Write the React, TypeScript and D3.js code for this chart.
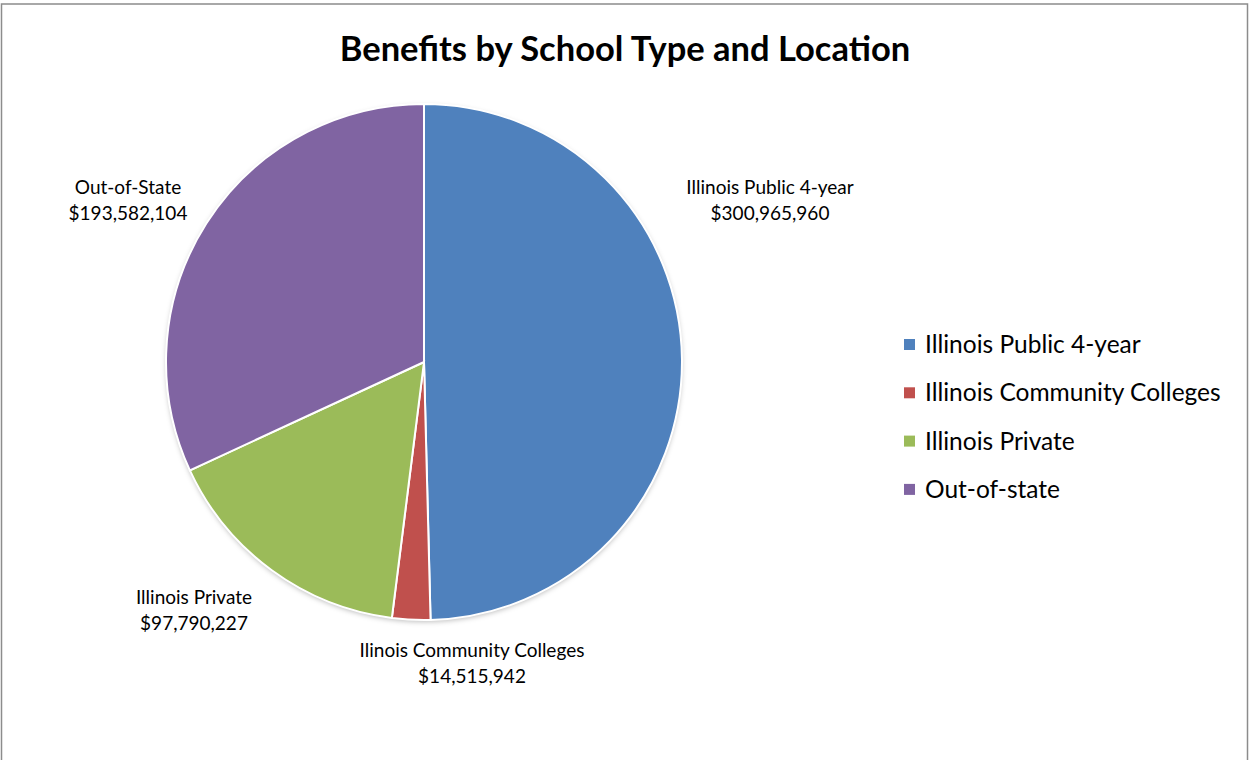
import React from "react";
import * as d3 from "d3";

const categories = ["Illinois Public 4-year", "Illinois Community Colleges", "Illinois Private", "Out-of-state"];
const values = [300965960, 14515942, 97790227, 193582104];
const labelNames = ["Illinois Public 4-year", "Ilinois Community Colleges", "Illinois Private", "Out-of-State"];
const colors = ["#4F81BD", "#C0504D", "#9BBB59", "#8064A2"];
const title = "Benefits by School Type and Location";

const W = 1249;
const H = 760;
const cx = 424;
const cy = 362;
const R = 258;
const FONT = "Lato, 'Open Sans', sans-serif";

// label anchor positions (center of text block, first baseline)
const labelPos: [number, number][] = [
  [770, 194],
  [472, 657],
  [194, 604],
  [128, 194],
];

export default function App() {
  const pie = d3.pie<number>().sort(null).value((d) => d);
  const arcs = pie(values);
  const arc = d3.arc<d3.PieArcDatum<number>>().innerRadius(0).outerRadius(R);
  const fmt = d3.format("$,");

  return (
    <svg width={W} height={H} style={{ position: "absolute", left: 0, top: 0, display: "block" }}>
      <defs>
        <filter id="sh" x="-10%" y="-10%" width="120%" height="120%">
          <feDropShadow dx="0" dy="2" stdDeviation="2.5" floodColor="#000" floodOpacity="0.25" />
        </filter>
      </defs>
      <rect x={0} y={0} width={W} height={H} fill="#fff" />
      <rect x={1.5} y={4} width={W - 3} height={H + 10} fill="none" stroke="#8c8c8c" strokeWidth={1.5} />
      <text x={625} y={61} textAnchor="middle" fontFamily={FONT} fontWeight="bold" fontSize={34.5} fill="#000">
        {title}
      </text>
      <g transform={`translate(${cx},${cy})`}>
        <circle r={R} fill="#fff" filter="url(#sh)" />
        {arcs.map((a, i) => (
          <path key={i} d={arc(a) || ""} fill={colors[i]} stroke="#fff" strokeWidth={2} />
        ))}
      </g>
      {arcs.map((a, i) => (
        <text key={i} textAnchor="middle" fontFamily={FONT} fontSize={19} fill="#000">
          <tspan x={labelPos[i][0]} y={labelPos[i][1]}>{labelNames[i]}</tspan>
          <tspan x={labelPos[i][0]} y={labelPos[i][1] + 25.5}>{fmt(a.data)}</tspan>
        </text>
      ))}
      {categories.map((c, i) => (
        <g key={c} transform={`translate(904,${339 + i * 48.3})`}>
          <rect x={0} y={0} width={11} height={11} fill={colors[i]} />
          <text x={21} y={14} fontFamily={FONT} fontSize={24.5} fill="#000">
            {c}
          </text>
        </g>
      ))}
    </svg>
  );
}
